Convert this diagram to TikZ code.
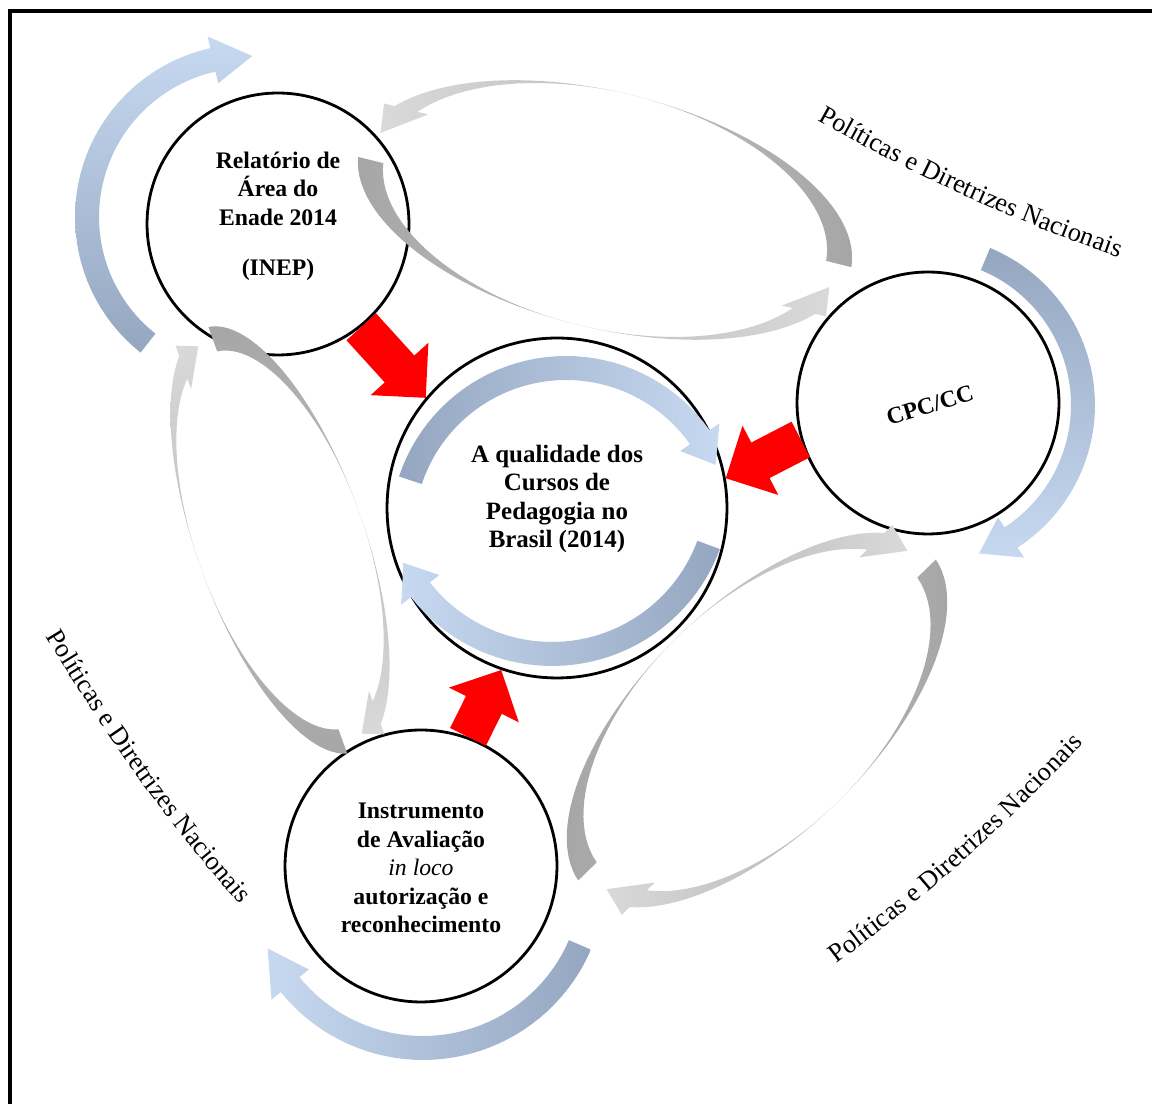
\documentclass[tikz,border=0pt]{standalone}
\usepackage{fontspec}
\setmainfont{Liberation Serif}
\usetikzlibrary{positioning,calc,decorations.text}

\definecolor{lblue}{RGB}{198,217,241}
\definecolor{slate}{RGB}{149,167,192}
\definecolor{dgrey}{RGB}{166,166,166}
\definecolor{lgrey}{RGB}{217,217,217}
\definecolor{arrowred}{RGB}{255,0,0}

% curved band arrow round a centre: cx, cy, R, start, head base, tip, shading
\newcommand{\ringarrow}[7]{%
  \shade[#7] plot[domain=#4:#5, samples=40] ({#1+(#3+12)*cos(\x)},{#2+(#3+12)*sin(\x)})
    -- ({#1+(#3+24)*cos(#5)},{#2+(#3+24)*sin(#5)})
    -- ({#1+#3*cos(#6)},{#2+#3*sin(#6)})
    -- ({#1+(#3-24)*cos(#5)},{#2+(#3-24)*sin(#5)})
    -- plot[domain=#5:#4, samples=40] ({#1+(#3-12)*cos(\x)},{#2+(#3-12)*sin(\x)}) -- cycle;}

% tilted loop arrow (thin at the sides): cx, cy, tilt, a, b, start, head base, tip, shading
\newcommand{\looparrow}[9]{%
  \begin{scope}[shift={(#1,#2)}, rotate=#3]
    \shade[#9] plot[domain=#6:#7, samples=50] ({(#4+13)*cos(\x)},{#5*sin(\x)})
      -- ({(#4+25)*cos(#7)},{#5*sin(#7)})
      -- ({#4*cos(#8)},{#5*sin(#8)})
      -- ({(#4-25)*cos(#7)},{#5*sin(#7)})
      -- plot[domain=#7:#6, samples=50] ({(#4-13)*cos(\x)},{#5*sin(\x)}) -- cycle;
  \end{scope}}

% thick red arrow from #1 to #2
\newcommand{\redarrow}[2]{%
  \coordinate (hb) at ($(#2)!0.78cm!(#1)$);
  \fill[arrowred] ($(#1)!0.4cm!90:(#2)$) -- ($(hb)!0.4cm!90:(#2)$) -- ($(hb)!0.78cm!90:(#2)$)
    -- (#2) -- ($(hb)!0.78cm!-90:(#2)$) -- ($(hb)!0.4cm!-90:(#2)$) -- ($(#1)!0.4cm!-90:(#2)$) -- cycle;}

\tikzset{
  ring/.style={circle, draw, line width=1.6pt, inner sep=0pt, minimum size=#1},
  ctext/.style={align=center, font=\bfseries\fontsize{13.5}{16.3}\selectfont},
  nacional/.style={decorate, decoration={text along path, text align=center,
      text={|\fontsize{15}{18}\selectfont|Políticas e Diretrizes Nacionais}}}
}

\begin{document}
\begin{tikzpicture}[x=0.02cm, y=0.02cm]
\useasboundingbox (0,0) rectangle (1152,1104);
\clip (0,0) rectangle (1152,1104);

% frame
\draw[line width=2pt] (10,-20) -- (10,1093) -- (1180,1093);

% circles
\node[ring=5.24cm] (rel) at (278,880) {};
\node[ring=6.8cm] (qual) at (557,596) {};
\node[ring=5.24cm] (cpc) at (928,701) {};
\node[ring=5.44cm] (inst) at (421,238) {};

% grey loops between the circles
\looparrow{605}{894}{-14}{240}{118}{2}{155}{170}{left color=lgrey, right color=dgrey}
\looparrow{605}{894}{-14}{240}{118}{184}{335}{350}{left color=dgrey, right color=lgrey}
\looparrow{280}{564}{109.7}{212}{84}{-3}{-157}{-172}{top color=dgrey, bottom color=lgrey}
\looparrow{280}{564}{109.7}{212}{84}{174}{23}{8}{top color=lgrey, bottom color=dgrey}
\looparrow{757}{384}{44.3}{228}{115}{175}{23}{8}{left color=dgrey, right color=lgrey}
\looparrow{757}{384}{44.3}{228}{115}{-5}{-157}{-172}{left color=lgrey, right color=dgrey}

% blue arrows round the circles
\ringarrow{248}{887}{161}{231.6}{102.6}{88.5}{top color=lblue, bottom color=slate}
\ringarrow{925}{699}{158}{67.5}{-57}{-70}{top color=slate, bottom color=lblue}
\ringarrow{423}{227}{171}{-23.4}{-141}{-155.3}{left color=lblue, right color=slate}
\ringarrow{566}{572}{164}{161.6}{35.3}{24.2}{left color=slate, right color=lblue}
\ringarrow{552}{617}{167}{-20.3}{-142}{-153}{left color=lblue, right color=slate}

% red arrows into the centre
\coordinate (a1) at (rel.-51);
\coordinate (b1) at (qual.140);
\coordinate (a2) at (cpc.196);
\coordinate (b2) at (qual.10);
\coordinate (a3) at (inst.70);
\coordinate (b3) at (qual.251);
\redarrow{a1}{b1}
\redarrow{a2}{b2}
\redarrow{a3}{b3}

% texts
\node[ctext] at (278,888) {Relatório de\\Área do\\Enade 2014\\[12pt](INEP)};
\node[ctext, font=\bfseries\fontsize{14.2}{16.3}\selectfont] at (557,605) {A qualidade dos\\Cursos de\\Pedagogia no\\Brasil (2014)};
\node[ctext, rotate=17] at (930,699) {CPC/CC};
\node[ctext] at (421,236) {Instrumento\\de Avaliação\\{\normalfont\itshape in loco}\\autorização e\\reconhecimento};

\path[nacional] (803,992) to[bend right=5] (1134,841);
\path[nacional] (36,484) to[bend right=5] (252,185);
\path[nacional] (822,129) to[bend right=5] (1096,374);
\end{tikzpicture}
\end{document}
